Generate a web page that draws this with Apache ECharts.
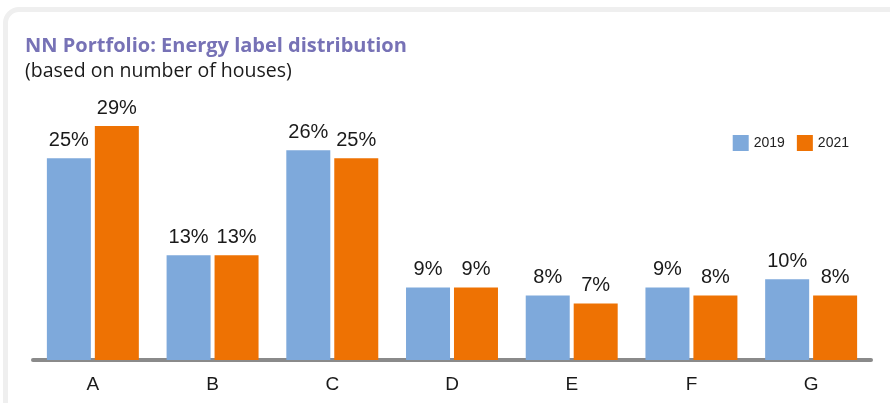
<!DOCTYPE html>
<html>
<head>
<meta charset="utf-8">
<script src="https://cdn.jsdelivr.net/npm/echarts@6/dist/echarts.min.js"></script>
<style>
html,body{margin:0;padding:0;background:#fff;width:890px;height:403px;overflow:hidden;}
#card{position:absolute;left:3px;top:7px;width:1000px;height:600px;border:5px solid #efefef;border-radius:16px;box-sizing:border-box;}
#chart{position:absolute;left:0;top:0;width:890px;height:403px;}
</style>
</head>
<body>
<div id="card"></div>
<div id="chart"></div>
<script>
const categories = ['A','B','C','D','E','F','G'];
const series2019 = [25,13,26,9,8,9,10];
const series2021 = [29,13,25,9,7,8,8];
const seriesNames = ['2019','2021'];
const titleText = 'NN Portfolio: Energy label distribution';
const subtitleText = '(based on number of houses)';

const chart = echarts.init(document.getElementById('chart'), null, {renderer:'canvas'});
const labelStyle = {show:true, position:'top', formatter:'{c}%', color:'#1a1a1a', fontSize:20, fontFamily:'Liberation Sans, Arial, sans-serif', distance:8};
chart.setOption({
  animation:false,
  backgroundColor:'transparent',
  title:{
    text:titleText,
    subtext:subtitleText,
    left:20, top:31,
    itemGap:5,
    textStyle:{color:'#7772b6', fontSize:20, fontWeight:'bold', fontFamily:'Open Sans, sans-serif'},
    subtextStyle:{color:'#1a1a1a', fontSize:19.5, fontFamily:'Open Sans, sans-serif'}
  },
  legend:{
    data:seriesNames,
    right:36, top:130,
    itemWidth:16, itemHeight:16, itemGap:12,
    icon:'rect',
    textStyle:{color:'#222', fontSize:14, fontFamily:'Liberation Sans, Arial, sans-serif'}
  },
  grid:{left:33, right:19, bottom:43, top:118},
  xAxis:{
    type:'category',
    data:categories,
    axisLine:{lineStyle:{color:'#8a8a8a', width:4}},
    axisTick:{show:false},
    axisLabel:{color:'#1a1a1a', fontSize:19, margin:15, fontFamily:'Liberation Sans, Arial, sans-serif'}
  },
  yAxis:{
    type:'value', min:0, max:30, show:false, splitLine:{show:false}
  },
  series:[
    {name:seriesNames[0], type:'bar', data:series2019, barWidth:44, barGap:'9%', itemStyle:{color:'#7ea9db'}, label:labelStyle},
    {name:seriesNames[1], type:'bar', data:series2021, barWidth:44, barGap:'9%', itemStyle:{color:'#ee7203'}, label:labelStyle}
  ]
});
</script>
</body>
</html>
